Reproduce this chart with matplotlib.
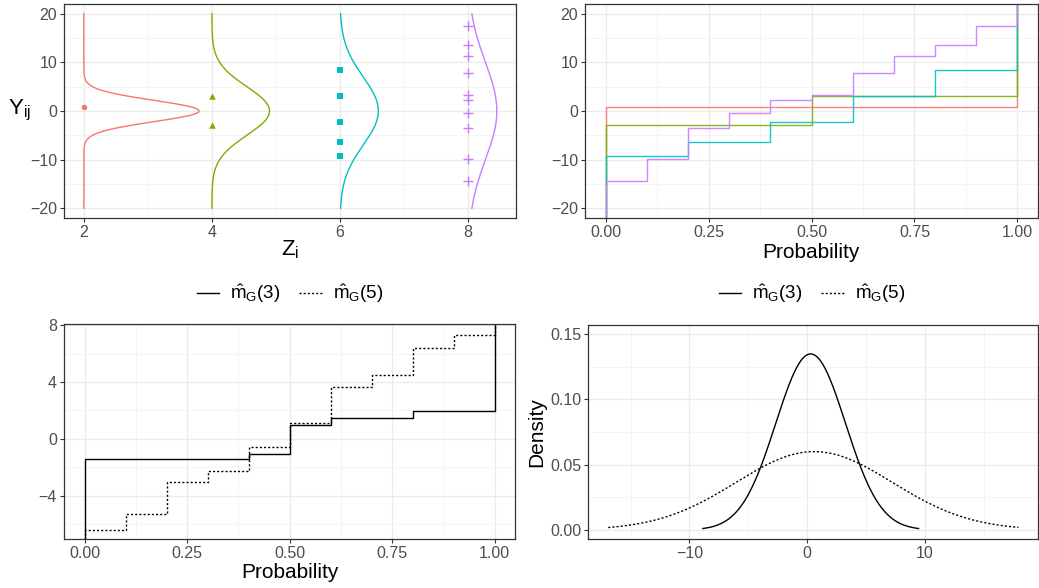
import numpy as np
import matplotlib.pyplot as plt
from matplotlib.lines import Line2D
from matplotlib.ticker import FormatStrFormatter

plt.rcParams['font.family'] = ['Liberation Sans', 'DejaVu Sans']
plt.rcParams['mathtext.fontset'] = 'custom'
plt.rcParams['mathtext.rm'] = 'Liberation Sans'
plt.rcParams['mathtext.it'] = 'Liberation Sans'

# groups (top row)
z_groups = [2, 4, 6, 8]
colors = ['#F8766D', '#7CAE00', '#00BFC4', '#C77CFF']
markers = ['o', '^', 's', '+']
y_g2 = [0.85]
y_g4 = [-2.8, 3.1]
y_g6 = [-9.2, -6.4, -2.3, 3.05, 8.4]
y_g8 = [-14.3, -9.8, -3.5, -0.45, 2.3, 3.25, 7.8, 11.3, 13.6, 17.5]
y_groups = [y_g2, y_g4, y_g6, y_g8]
# normal densities drawn sideways at each Z (peak width in Z units, sd in Y units)
dens_peak = [1.8, 0.9, 0.6, 0.45]
dens_sd = [2.2, 5.0, 7.0, 10.0]

# estimated quantile functions (bottom left)
m3 = [-1.41, -1.41, -1.41, -1.41, -1.04, 0.96, 1.46, 1.46, 1.93, 1.93]
m5 = [-6.42, -5.29, -3.01, -2.24, -0.54, 1.11, 3.62, 4.49, 6.38, 7.34]

# densities (bottom right): mean, sd, support
d3_mean, d3_sd, d3_lo, d3_hi = 0.3, 2.96, -8.86, 9.47
d5_mean, d5_sd, d5_lo, d5_hi = 0.6, 6.65, -16.9, 17.96

lab3 = r'$\hat{m}_{G}(3)$'
lab5 = r'$\hat{m}_{G}(5)$'

W, H = 1039, 588
fig = plt.figure(figsize=(W / 100, H / 100), dpi=100)


def box(l, t, r, b):
    return fig.add_axes([l / W, 1 - b / H, (r - l) / W, (b - t) / H])


def style(ax, xmaj, xmin, ymaj, ymin, xfmt=None, yfmt=None):
    ax.set_xticks(xmaj)
    ax.set_xticks(xmin, minor=True)
    ax.set_yticks(ymaj)
    ax.set_yticks(ymin, minor=True)
    if xfmt:
        ax.xaxis.set_major_formatter(FormatStrFormatter(xfmt))
    if yfmt:
        ax.yaxis.set_major_formatter(FormatStrFormatter(yfmt))
    ax.grid(which='major', color='#EBEBEB', lw=1.0)
    ax.grid(which='minor', color='#F2F2F2', lw=0.6)
    ax.set_axisbelow(True)
    for s in ax.spines.values():
        s.set_color('#333333')
        s.set_linewidth(0.9)
    ax.tick_params(which='major', color='#333333', labelcolor='#4D4D4D',
                   labelsize=11.5, length=3, width=0.8, pad=2)
    ax.tick_params(which='minor', length=0)


def quantile_line(ax, vals, ylo, yhi, **kw):
    n = len(vals)
    p = np.arange(n + 1) / n
    xs = np.repeat(p, 2)
    ys = np.r_[ylo, np.repeat(vals, 2), yhi]
    ax.plot(xs, ys, **kw)


# top left
ax1 = box(64, 4, 516, 218)
yy = np.linspace(-20, 20, 400)
for z, ys, c, mk, pk, sd in zip(z_groups, y_groups, colors, markers, dens_peak, dens_sd):
    ax1.plot(z + pk * np.exp(-yy ** 2 / (2 * sd ** 2)), yy, color=c, lw=1.0)
    if mk == '+':
        ax1.scatter([z] * len(ys), ys, marker=mk, color=c, s=45, lw=1.0, zorder=3)
    elif mk == 'o':
        ax1.scatter([z] * len(ys), ys, marker=mk, color=c, s=16, lw=0, zorder=3)
    else:
        ax1.scatter([z] * len(ys), ys, marker=mk, color=c, s=22, lw=0, zorder=3)
ax1.set_xlim(1.69, 8.75)
ax1.set_ylim(-22, 22)
style(ax1, [2, 4, 6, 8], [3, 5, 7], [-20, -10, 0, 10, 20], [-15, -5, 5, 15])
fig.text(8 / W, 1 - 110 / H, r'$\mathregular{Y_{ij}}$', fontsize=16, ha='left', va='center')
fig.text(290 / W, 1 - 250 / H, r'$\mathregular{Z_{i}}$', fontsize=16, ha='center', va='center')

# top right
ax2 = box(585, 4, 1038, 218)
for ys, c in zip(y_groups, colors):
    quantile_line(ax2, ys, -30, 30, color=c, lw=1.0, alpha=0.9)
ax2.set_xlim(-0.05, 1.05)
ax2.set_ylim(-22, 22)
style(ax2, [0, 0.25, 0.5, 0.75, 1], [0.125, 0.375, 0.625, 0.875],
      [-20, -10, 0, 10, 20], [-15, -5, 5, 15], xfmt='%.2f')
fig.text(811 / W, 1 - 252 / H, 'Probability', fontsize=15, ha='center', va='center')

# bottom left
ax3 = box(64, 324, 515, 539)
quantile_line(ax3, m3, -10, 10, color='black', lw=1.0)
quantile_line(ax3, m5, -10, 10, color='black', lw=1.0, dashes=(1.5, 1.5))
ax3.set_xlim(-0.05, 1.05)
ax3.set_ylim(-7.04, 8.08)
style(ax3, [0, 0.25, 0.5, 0.75, 1], [0.125, 0.375, 0.625, 0.875],
      [-4, 0, 4, 8], [-6, -2, 2, 6], xfmt='%.2f')
fig.text(290 / W, 1 - 572 / H, 'Probability', fontsize=15, ha='center', va='center')

# bottom right
ax4 = box(588, 325, 1038, 539)
x3 = np.linspace(d3_lo, d3_hi, 300)
x5 = np.linspace(d5_lo, d5_hi, 300)
ax4.plot(x3, np.exp(-(x3 - d3_mean) ** 2 / (2 * d3_sd ** 2)) / (d3_sd * np.sqrt(2 * np.pi)),
         color='black', lw=1.0)
ax4.plot(x5, np.exp(-(x5 - d5_mean) ** 2 / (2 * d5_sd ** 2)) / (d5_sd * np.sqrt(2 * np.pi)),
         color='black', lw=1.0, dashes=(1.5, 1.5))
ax4.set_xlim(-18.62, 19.62)
ax4.set_ylim(-0.0069, 0.1569)
style(ax4, [-10, 0, 10], [-15, -5, 5, 15], [0, 0.05, 0.10, 0.15],
      [0.025, 0.075, 0.125], yfmt='%.2f')
fig.text(537 / W, 1 - 432 / H, 'Density', fontsize=15, ha='center', va='center', rotation=90)

handles = [Line2D([], [], color='black', lw=1.0),
           Line2D([], [], color='black', lw=1.0, dashes=(1.5, 1.5))]
for cx in (290, 812):
    fig.legend(handles, [lab3, lab5], loc='center', bbox_to_anchor=(cx / W, 1 - 294 / H),
               ncol=2, frameon=False, fontsize=13.5, handlelength=1.2,
               handletextpad=0.6, columnspacing=1.0)

fig.savefig('out.png', dpi=100)
